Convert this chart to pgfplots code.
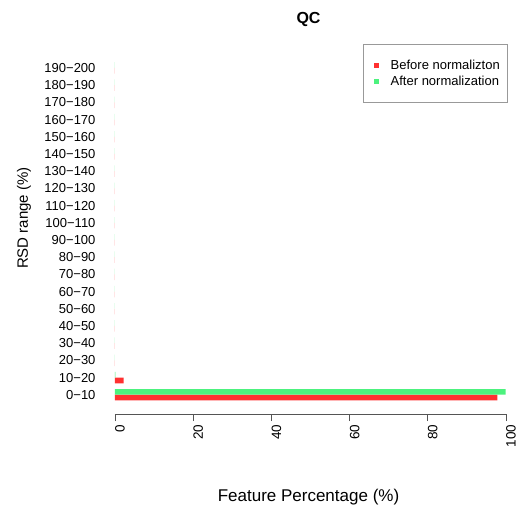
\documentclass[border=0pt]{standalone}
\usepackage{fontspec}
\setmainfont{Liberation Sans}
\usepackage{pgfplots}
\pgfplotsset{compat=1.18}
\definecolor{redbar}{HTML}{FF3030}
\definecolor{greenbar}{HTML}{4CF27E}
\definecolor{axgray}{HTML}{555555}
\begin{document}
\begin{tikzpicture}
\begin{axis}[
  scale only axis, width=391pt, height=365.3pt,
  xmin=0, xmax=100, ymin=-1.12, ymax=20.12,
  xbar, bar width=0.333,
  axis x line*=bottom, axis y line*=left,
  y axis line style={draw=none},
  ytick={0,...,19},
  yticklabels={0−10,10−20,20−30,30−40,40−50,50−60,60−70,70−80,80−90,90−100,100−110,110−120,120−130,130−140,140−150,150−160,160−170,170−180,180−190,190−200},
  ytick style={draw=none},
  yticklabel style={font=\fontsize{13}{15}\selectfont, xshift=-9pt, anchor=east},
  xtick={0,20,40,60,80,100},
  x axis line style={draw=axgray, line width=0.8pt, -},
  xtick style={draw=axgray, line width=0.8pt},
  tick align=outside, major tick length=7pt,
  xticklabel style={rotate=90, anchor=east, font=\fontsize{13.5}{15}\selectfont, /pgf/number format/assume math mode=true, xshift=0pt, yshift=-5pt},
  title={QC},
  title style={font=\bfseries\fontsize{16}{19}\selectfont, at={(axis description cs:0.4949,1.0649)}, anchor=center, yshift=0pt},
  xlabel={Feature Percentage (\%)},
  xlabel style={font=\fontsize{17}{20}\selectfont, at={(axis description cs:0.4949,-0.2272)}, anchor=center},
  ylabel={RSD range (\%)},
  ylabel style={font=\fontsize{15}{18}\selectfont, at={(axis description cs:-0.2327,0.5365)}, anchor=center, rotate=0},
  legend style={at={(axis description cs:1.0026,1.0129)}, anchor=north east, draw=gray!80, font=\fontsize{13}{15}\selectfont, inner xsep=5pt, inner ysep=13.5pt, row sep=1pt, legend cell align=left},
]
\addplot[fill=redbar, draw=none, bar shift=-0.1667,
  legend image code/.code={\path (0pt,0pt) (21pt,0pt); \fill[redbar] (6pt,-2.5pt) rectangle (11pt,2.5pt);}]
  coordinates {(97.8,0) (2.2,1) (0,2) (0,3) (0,4) (0,5) (0,6) (0,7) (0,8) (0,9) (0,10) (0,11) (0,12) (0,13) (0,14) (0,15) (0,16) (0,17) (0,18) (0,19)};
\addlegendentry{Before normalizton}
\addplot[fill=greenbar, draw=none, bar shift=0.1667,
  legend image code/.code={\path (0pt,0pt) (21pt,0pt); \fill[greenbar] (6pt,-2.5pt) rectangle (11pt,2.5pt);}]
  coordinates {(99.9,0) (0.1,1) (0,2) (0,3) (0,4) (0,5) (0,6) (0,7) (0,8) (0,9) (0,10) (0,11) (0,12) (0,13) (0,14) (0,15) (0,16) (0,17) (0,18) (0,19)};
\addlegendentry{After normalization}
\end{axis}
\pgfresetboundingbox
\path (current axis.south west) ++(-115pt,-101pt) coordinate (bbsw);
\path (current axis.north east) ++(15pt,48.7pt) coordinate (bbne);
\path[use as bounding box] (bbsw) rectangle (bbne);
\end{tikzpicture}
\end{document}
